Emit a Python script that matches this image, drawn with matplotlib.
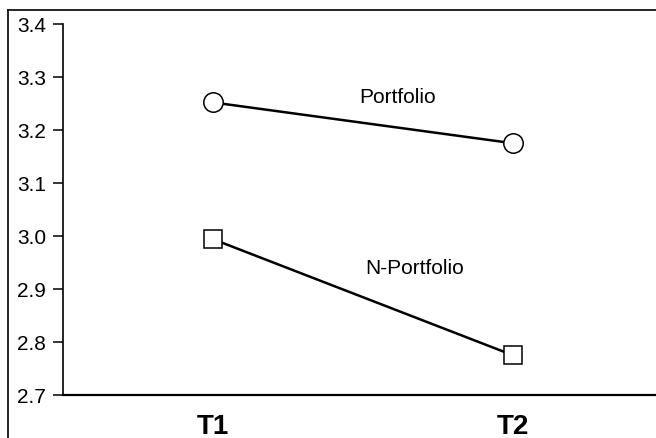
import matplotlib
matplotlib.use("Agg")
import matplotlib.pyplot as plt
from matplotlib.lines import Line2D

plt.rcParams['font.family'] = ['Liberation Sans', 'DejaVu Sans']

# Data
times = ["T1", "T2"]
portfolio = [3.252, 3.175]
n_portfolio = [2.994, 2.775]
series_labels = ["Portfolio", "N-Portfolio"]
y_ticks = [2.7, 2.8, 2.9, 3.0, 3.1, 3.2, 3.3, 3.4]

W, H = 656, 439
fig = plt.figure(figsize=(W / 100, H / 100), dpi=100)

# outer frame (left and top visible)
fig.add_artist(Line2D([8 / W, 8 / W], [0, 1 - 11 / H], transform=fig.transFigure,
                      color='black', lw=1.2))
fig.add_artist(Line2D([8 / W, 1], [1 - 11 / H, 1 - 11 / H], transform=fig.transFigure,
                      color='black', lw=1.2))

left = 63 / W
bottom = (H - 396) / H
top = (H - 25) / H
ax = fig.add_axes([left, bottom, 1 - left, top - bottom])

x = list(range(len(times)))
ax.plot(x, portfolio, color='black', lw=1.8, marker='o', markersize=14,
        markerfacecolor='white', markeredgecolor='black', markeredgewidth=1.1)
ax.plot(x, n_portfolio, color='black', lw=1.8, marker='s', markersize=13,
        markerfacecolor='white', markeredgecolor='black', markeredgewidth=1.1)

ax.text(0.617, 3.264, series_labels[0], ha='center', va='center', fontsize=15)
ax.text(0.673, 2.941, series_labels[1], ha='center', va='center', fontsize=15)

ax.set_xlim(-0.5, 1.477)
ax.set_ylim(2.7, 3.4)
ax.set_yticks(y_ticks)
ax.set_yticklabels([f"{v:.1f}" for v in y_ticks], fontsize=15)
ax.set_xticks(x)
ax.set_xticklabels(times, fontsize=20, fontweight='bold')
ax.tick_params(axis='y', direction='out', length=7, width=1.1, pad=5)
ax.tick_params(axis='x', length=0, pad=13)

for s in ['top', 'right']:
    ax.spines[s].set_visible(False)
ax.spines['left'].set_linewidth(1.2)
ax.spines['bottom'].set_linewidth(1.6)
ax.patch.set_visible(False)

fig.savefig("out.png", dpi=100)
